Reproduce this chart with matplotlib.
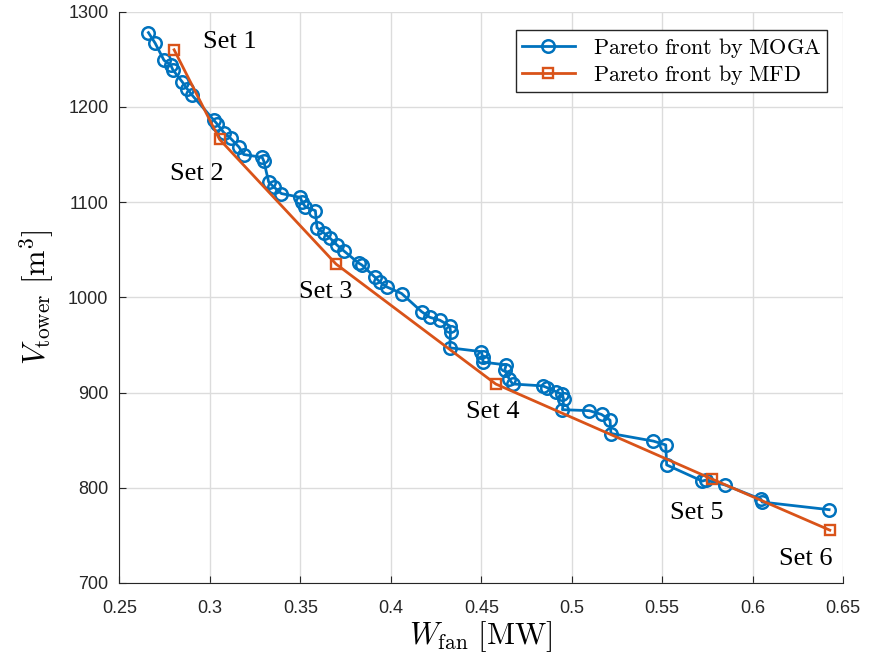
import matplotlib
matplotlib.use("Agg")
import matplotlib.pyplot as plt

plt.rcParams["mathtext.fontset"] = "cm"

# Pareto front by MOGA (W_fan [MW], V_tower [m^3])
moga_w = [0.2660, 0.2697, 0.2746, 0.2783, 0.2795, 0.2848, 0.2874, 0.2903,
          0.3022, 0.3040, 0.3077, 0.3114, 0.3160, 0.3187, 0.3289, 0.3298,
          0.3325, 0.3353, 0.3395, 0.3500, 0.3509, 0.3528, 0.3583, 0.3592,
          0.3628, 0.3665, 0.3702, 0.3739, 0.3822, 0.3840, 0.3913, 0.3941,
          0.3977, 0.4060, 0.4170, 0.4216, 0.4271, 0.4326, 0.4330, 0.4326,
          0.4500, 0.4509, 0.4509, 0.4638, 0.4630, 0.4655, 0.4674, 0.4840,
          0.4866, 0.4912, 0.4949, 0.4955, 0.4949, 0.5097, 0.5165, 0.5212,
          0.5217, 0.5452, 0.5520, 0.5525, 0.5722, 0.5740, 0.5847, 0.6046,
          0.6053, 0.6423]
moga_v = [1278, 1267, 1249, 1244, 1239, 1226, 1219, 1212,
          1186, 1182, 1173, 1167, 1158, 1150, 1147, 1143,
          1121, 1116, 1109, 1105, 1100, 1095, 1091, 1073,
          1068, 1062, 1055, 1049, 1036, 1034, 1021, 1016,
          1011, 1004, 985, 979, 976, 970, 964, 947,
          943, 937, 932, 929, 924, 914, 909, 907,
          905, 901, 898, 893, 882, 881, 877, 871,
          857, 849, 845, 824, 807, 808, 803, 788,
          785, 777]

# Pareto front by MFD
mfd_w = [0.2802, 0.3053, 0.3697, 0.4580, 0.5778, 0.6427]
mfd_v = [1260, 1166, 1035, 909, 809, 755.5]

set_labels = ["Set 1", "Set 2", "Set 3", "Set 4", "Set 5", "Set 6"]
label_pos = [(0.3109, 1268), (0.2926, 1130), (0.3638, 1006),
             (0.4563, 880), (0.5693, 773), (0.6295, 725)]

blue = "#0072BD"
orange = "#D95319"

fig = plt.figure(figsize=(8.69, 6.64), dpi=100)
ax = fig.add_axes([0.1375, 0.122, 0.8326, 0.8604])

ax.plot(moga_w, moga_v, "-o", color=blue, lw=2, ms=9, mfc="none", mew=1.8,
        label=r"$\mathrm{Pareto\ front\ by\ MOGA}$")
ax.plot(mfd_w, mfd_v, "-s", color=orange, lw=2, ms=7, mfc="none", mew=1.7,
        label=r"$\mathrm{Pareto\ front\ by\ MFD}$")

for txt, (x, y) in zip(set_labels, label_pos):
    ax.text(x, y, txt, ha="center", va="center", fontsize=19,
            family="Liberation Serif")

ax.set_xlim(0.25, 0.65)
ax.set_ylim(700, 1300)
ax.set_xticks([0.25, 0.3, 0.35, 0.4, 0.45, 0.5, 0.55, 0.6, 0.65])
ax.set_xticklabels(["0.25", "0.3", "0.35", "0.4", "0.45", "0.5", "0.55", "0.6", "0.65"])
ax.set_yticks(range(700, 1301, 100))
ax.tick_params(direction="in", labelsize=13, color="#262626", labelcolor="#262626",
               length=5)
ax.tick_params(axis="x", pad=12)
ax.tick_params(axis="y", pad=8)
for lbl in ax.get_xticklabels() + ax.get_yticklabels():
    lbl.set_family("Liberation Sans")

ax.grid(True, color="#dcdcdc", lw=1)
ax.set_axisbelow(True)
for s in ["top", "right"]:
    ax.spines[s].set_visible(False)
for s in ["left", "bottom"]:
    ax.spines[s].set_color("#262626")

ax.set_xlabel(r"$W_{\mathrm{fan}}\ [\mathrm{MW}]$", fontsize=22, labelpad=2)
ax.set_ylabel(r"$V_{\mathrm{tower}}\ [\mathrm{m}^3]$", fontsize=22, labelpad=9)

leg = ax.legend(loc="upper right", bbox_to_anchor=(0.978, 0.968), borderaxespad=0,
                fontsize=16, fancybox=False, framealpha=1, edgecolor="#262626",
                handlelength=2.4, borderpad=0.25, labelspacing=0.15)
leg.get_frame().set_linewidth(1.0)

fig.savefig("out.png", dpi=100)
